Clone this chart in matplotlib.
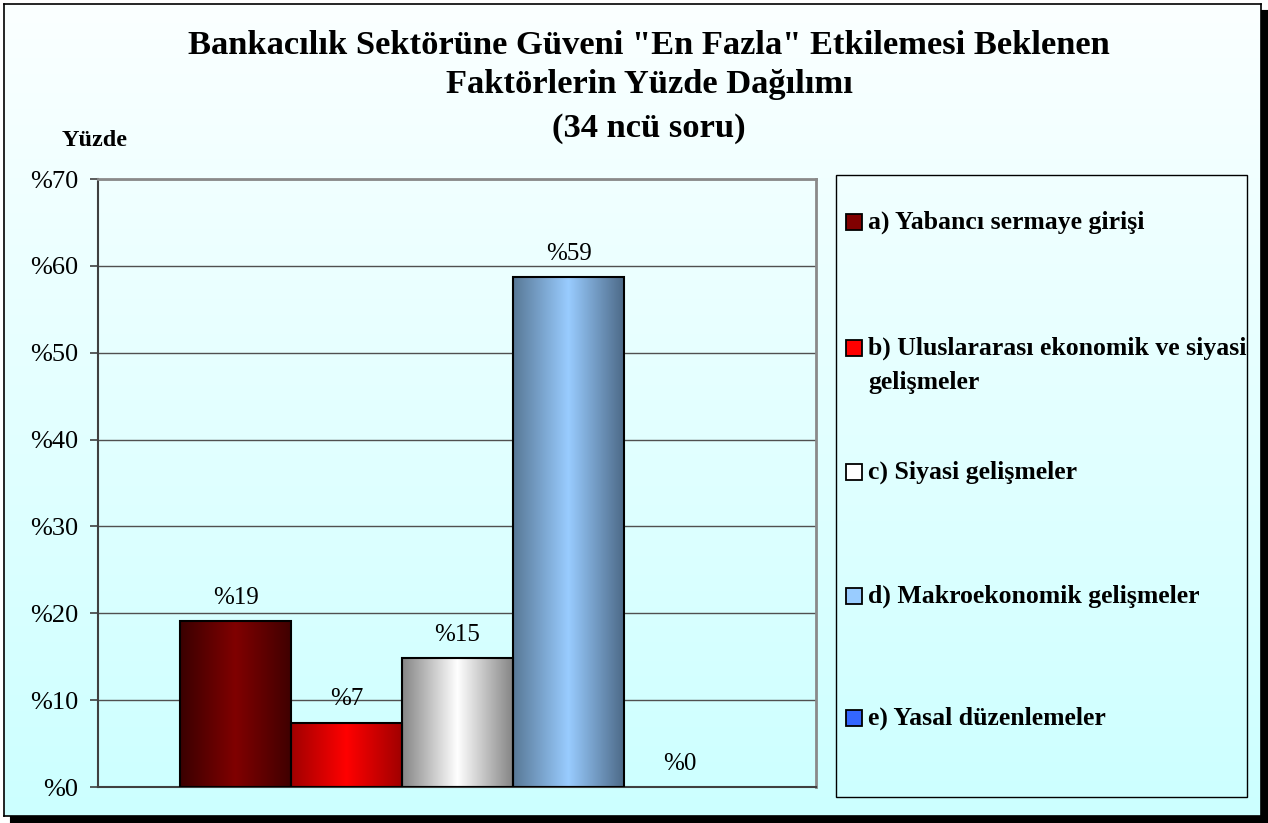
import numpy as np
import matplotlib
matplotlib.use("Agg")
import matplotlib.pyplot as plt
from matplotlib.colors import LinearSegmentedColormap
from matplotlib.patches import Rectangle

plt.rcParams['font.family'] = ['Liberation Serif', 'DejaVu Serif']

# data
categories = ["a) Yabancı sermaye girişi",
              "b) Uluslararası ekonomik ve siyasi\ngelişmeler",
              "c) Siyasi gelişmeler",
              "d) Makroekonomik gelişmeler",
              "e) Yasal düzenlemeler"]
values = [19.1, 7.4, 14.8, 58.7, 0.0]
value_labels = ["%19", "%7", "%15", "%59", "%0"]
yticks = [0, 10, 20, 30, 40, 50, 60, 70]
ytick_labels = ["%0", "%10", "%20", "%30", "%40", "%50", "%60", "%70"]
title_lines = ['Bankacılık Sektörüne Güveni "En Fazla" Etkilemesi Beklenen',
               'Faktörlerin Yüzde Dağılımı',
               '(34 ncü soru)']

# bar shading: edge colour, centre colour, edge colour
bar_shades = [("#3a0000", "#800000", "#400000"),
              ("#a00000", "#ff0000", "#a00000"),
              ("#858585", "#ffffff", "#858585"),
              ("#587896", "#99ccff", "#4d6a88"),
              ("#1f44b8", "#3366ff", "#1f44b8")]

W, H = 1268, 823
fig = plt.figure(figsize=(W / 100, H / 100), dpi=100)
fig.patch.set_facecolor("white")


def px(x, y):
    # pixel (from top-left) -> figure fraction
    return x / W, 1 - y / H


# shadow behind the frame
sh = fig.add_axes([10 / W, 0, 1258 / W, 813 / H], zorder=-2)
sh.set_facecolor("black")
sh.set_xticks([])
sh.set_yticks([])

# framed gradient background
bg = fig.add_axes([4 / W, 1 - 816 / H, 1257 / W, 812 / H], zorder=-1)
grad = np.linspace(0, 1, 256).reshape(-1, 1)
bg_cmap = LinearSegmentedColormap.from_list("bg", ["#fbffff", "#ccffff"])
bg.imshow(grad, aspect="auto", cmap=bg_cmap, extent=[0, 1, 0, 1], origin="upper")
bg.set_xticks([])
bg.set_yticks([])
for s in bg.spines.values():
    s.set_color("black")
    s.set_linewidth(1.2)

# main plot
ax = fig.add_axes([98 / W, 1 - 787 / H, (816 - 98) / W, (787 - 179) / H], zorder=1)
ax.patch.set_alpha(0)
x = np.arange(len(values))
bars = ax.bar(x, values, width=1.0, facecolor="none", edgecolor="black", linewidth=1.5, zorder=3)

for bar, shade in zip(bars, bar_shades):
    h = bar.get_height()
    if h <= 0:
        bar.set_visible(False)
        continue
    cmap = LinearSegmentedColormap.from_list("s", list(shade))
    x0 = bar.get_x()
    im = ax.imshow(np.linspace(0, 1, 256).reshape(1, -1), cmap=cmap, aspect="auto",
                   extent=[x0, x0 + bar.get_width(), 0, h], zorder=2)
    im.set_clip_path(bar)

for bar, lab in zip(bars, value_labels):
    ax.annotate(lab, (bar.get_x() + bar.get_width() / 2, bar.get_height()),
                xytext=(0, 9), textcoords="offset points", ha="center", va="bottom",
                fontsize=18)

ax.set_xlim(-0.5 - 0.74, len(values) - 0.5 + 0.73)
ax.set_ylim(0, 70)
ax.set_yticks(yticks)
ax.set_yticklabels(ytick_labels, fontsize=19)
ax.set_xticks([])
ax.yaxis.grid(True, color="#505050", linewidth=1.0)
ax.set_axisbelow(True)
ax.tick_params(axis="y", length=6, width=1.2, color="#404040", pad=8)
ax.spines["left"].set_color("#404040")
ax.spines["bottom"].set_color("#404040")
ax.spines["top"].set_color("#8a8a8a")
ax.spines["right"].set_color("#8a8a8a")
for s in ["left", "bottom"]:
    ax.spines[s].set_linewidth(1.5)
for s in ["top", "right"]:
    ax.spines[s].set_linewidth(2)

# title and axis caption
for line, ty in zip(title_lines, [45, 85, 128]):
    fig.text(*px(649, ty), line, ha="center", va="center", fontsize=24.8, fontweight="bold")
fig.text(*px(62, 140), "Yüzde", ha="left", va="center", fontsize=17.5, fontweight="bold")

# legend box
fig.patches.append(Rectangle(px(836, 797), (1247 - 836) / W, (797 - 175) / H,
                             transform=fig.transFigure, facecolor="none",
                             edgecolor="black", linewidth=1.0, zorder=2))
entry_y = [222, 348, 472, 596, 718]
for lab, shade, ey in zip(categories, bar_shades, entry_y):
    fig.patches.append(Rectangle(px(846, ey + 8), 16 / W, 16 / H, transform=fig.transFigure,
                                 facecolor=shade[1], edgecolor="black", linewidth=1.3, zorder=3))
    for k, part in enumerate(lab.split("\n")):
        fig.text(*px(868, ey + 34 * k), part, ha="left", va="center",
                 fontsize=18.5, fontweight="bold", zorder=3)

fig.savefig("out.png", dpi=100)
